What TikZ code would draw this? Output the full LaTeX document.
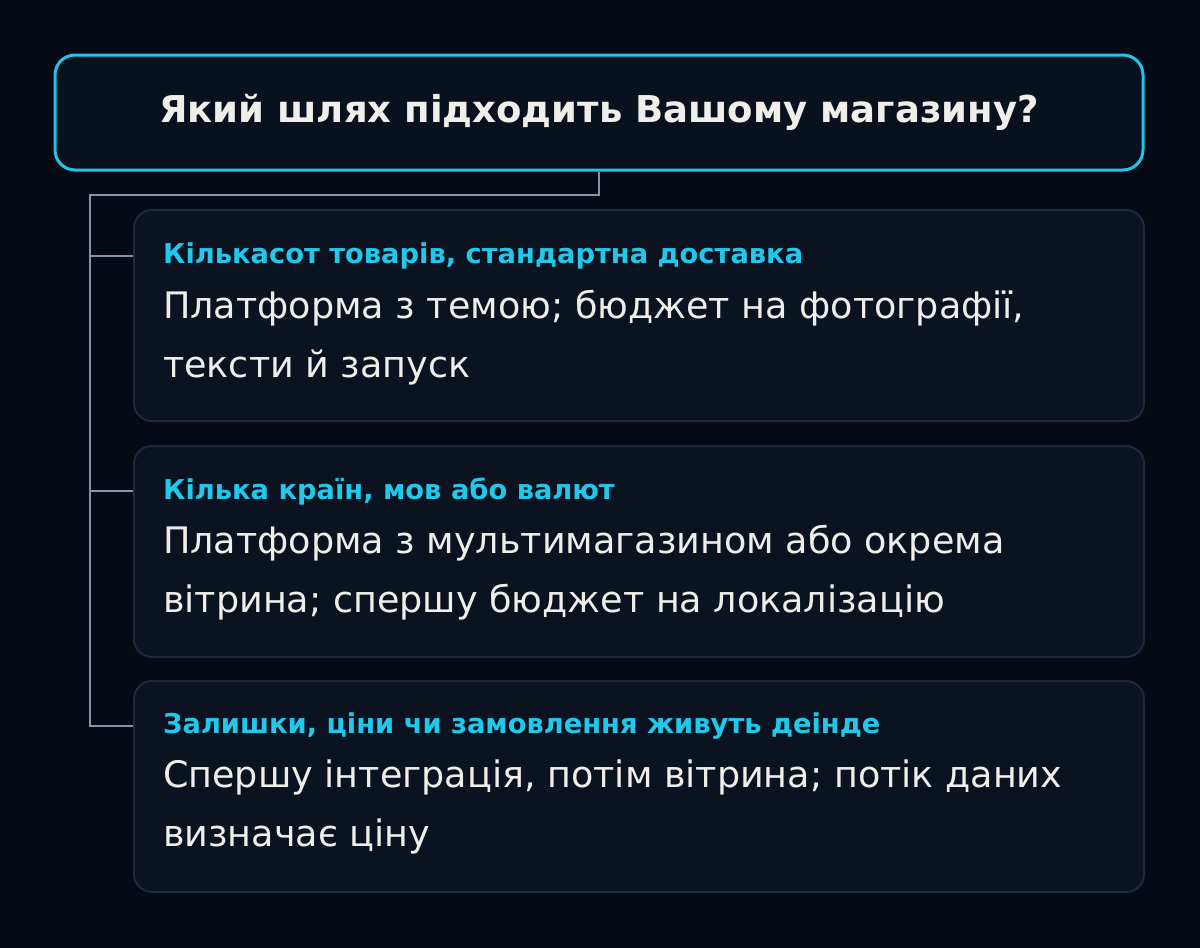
\documentclass[tikz,border=0pt]{standalone}
\usepackage{fontspec}
\setmainfont{DejaVu Sans}
\usetikzlibrary{positioning}
\definecolor{bgnavy}{HTML}{050A14}
\definecolor{boxfill}{HTML}{0A111E}
\definecolor{cardfill}{HTML}{0B1220}
\definecolor{cardedge}{HTML}{1E293E}
\definecolor{cyanline}{HTML}{22C5E6}
\definecolor{cyantext}{HTML}{22C8EA}
\definecolor{offwhite}{HTML}{F0EEE8}
\definecolor{linkgray}{HTML}{8A93A6}
\begin{document}
\begin{tikzpicture}[x=1pt, y=-1pt,
    titlebox/.style={draw=cyanline, line width=3pt, fill=boxfill, rounded corners=20pt,
        minimum width=1088pt, minimum height=115pt, inner sep=0pt,
        text=offwhite, font=\fontsize{37}{44}\selectfont\bfseries},
    card/.style={draw=cardedge, line width=2pt, fill=cardfill, rounded corners=18pt,
        minimum width=1010pt, minimum height=211pt, inner sep=0pt, anchor=north west},
    heading/.style={anchor=base west, inner sep=0pt, text=cyantext,
        font=\fontsize{27.3}{32}\selectfont\bfseries},
    bodytext/.style={anchor=base west, inner sep=0pt, text=offwhite, align=left,
        font=\fontsize{36.5}{59}\selectfont},
    link/.style={draw=linkgray, line width=2pt}]
\fill[bgnavy] (0,0) rectangle (1200,948);
\useasboundingbox (0,0) rectangle (1200,948);
% question
\node[titlebox] (title) at (599,112.5) {Який шлях підходить Вашому магазину?};
% cards
\node[card] (c1) at (133,209) {};
\node[card] (c2) at (133,445) {};
\node[card] (c3) at (133,680) {};
\node[heading] (h1) at (163,263) {Кількасот товарів, стандартна доставка};
\node[bodytext] (t1) at (163,377) {Платформа з темою; бюджет на фотографії,\\тексти й запуск};
\node[heading] (h2) at (163,499) {Кілька країн, мов або валют};
\node[bodytext] (t2) at (163,612) {Платформа з мультимагазином або окрема\\вітрина; спершу бюджет на локалізацію};
\node[heading] (h3) at (163,733) {Залишки, ціни чи замовлення живуть деінде};
\node[bodytext] (t3) at (163,846) {Спершу інтеграція, потім вітрина; потік даних\\визначає ціну};
% tree
\coordinate (trunk) at (90,195);
\coordinate (b1) at (133,256);
\coordinate (b2) at (133,491);
\coordinate (b3) at (133,726);
\draw[link] (title.south) |- (trunk) -- (trunk |- b3) -- (b3);
\draw[link] (trunk |- b1) -- (b1);
\draw[link] (trunk |- b2) -- (b2);
\end{tikzpicture}
\end{document}
